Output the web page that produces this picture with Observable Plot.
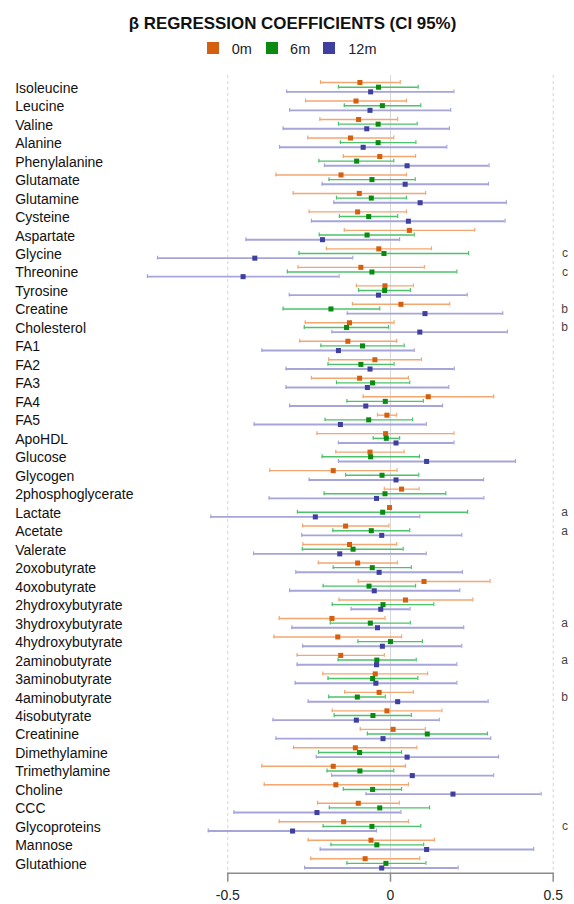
<!DOCTYPE html>
<html>
<head>
<meta charset="utf-8">
<script src="https://cdn.jsdelivr.net/npm/d3@7"></script>
<script src="https://cdn.jsdelivr.net/npm/@observablehq/plot@0.6"></script>
<style>
  html, body { margin: 0; padding: 0; background: #fff; }
  body { width: 574px; height: 904px; position: relative; overflow: hidden; font-family: "Liberation Sans", Arial, sans-serif; }
  #title { position: absolute; left: 0; top: 14px; width: 585px; text-align: center; font-weight: bold; font-size: 16.9px; line-height: 20px; color: #111; }
  .sw { position: absolute; top: 42px; width: 12px; height: 12px; }
  .lt { position: absolute; top: 40.5px; font-size: 14.5px; line-height: 17px; color: #222; }
  #chart { position: absolute; left: 0; top: 66px; }
</style>
</head>
<body>
<div id="title">β REGRESSION COEFFICIENTS (CI 95%)</div>
<div id="legend"></div>
<div id="chart"></div>
<script>
const names = ["Isoleucine","Leucine","Valine","Alanine","Phenylalanine","Glutamate","Glutamine","Cysteine","Aspartate","Glycine","Threonine","Tyrosine","Creatine","Cholesterol","FA1","FA2","FA3","FA4","FA5","ApoHDL","Glucose","Glycogen","2phosphoglycerate","Lactate","Acetate","Valerate","2oxobutyrate","4oxobutyrate","2hydroxybutyrate","3hydroxybutyrate","4hydroxybutyrate","2aminobutyrate","3aminobutyrate","4aminobutyrate","4isobutyrate","Creatinine","Dimethylamine","Trimethylamine","Choline","CCC","Glycoproteins","Mannose","Glutathione"];

const seriesNames = ["0m", "6m", "12m"];

// 0m
const est0 = [-0.094,-0.106,-0.098,-0.123,-0.033,-0.152,-0.096,-0.101,0.058,-0.036,-0.091,-0.017,0.032,-0.126,-0.131,-0.048,-0.095,0.116,-0.011,-0.015,-0.063,-0.176,0.034,-0.003,-0.138,-0.126,-0.101,0.103,0.046,-0.180,-0.162,-0.153,-0.047,-0.035,-0.011,0.008,-0.108,-0.176,-0.168,-0.099,-0.144,-0.060,-0.078];
const lo0 = [-0.215,-0.261,-0.217,-0.254,-0.145,-0.352,-0.299,-0.250,-0.142,-0.197,-0.284,-0.105,-0.117,-0.262,-0.279,-0.190,-0.243,-0.084,-0.040,-0.226,-0.168,-0.371,-0.019,-0.006,-0.270,-0.269,-0.222,-0.099,-0.158,-0.342,-0.358,-0.287,-0.208,-0.141,-0.179,-0.093,-0.298,-0.395,-0.388,-0.224,-0.342,-0.253,-0.245];
const hi0 = [0.030,0.049,0.022,0.010,0.077,0.049,0.108,0.049,0.259,0.126,0.104,0.070,0.182,0.011,0.019,0.095,0.055,0.317,0.019,0.195,0.042,0.020,0.088,0.000,-0.005,0.019,0.021,0.306,0.253,-0.017,0.034,-0.019,0.114,0.070,0.158,0.107,0.081,0.046,0.055,0.027,0.055,0.135,0.090];

// 6m
const est6 = [-0.037,-0.025,-0.038,-0.038,-0.104,-0.057,-0.059,-0.067,-0.072,-0.020,-0.057,-0.018,-0.183,-0.135,-0.086,-0.091,-0.055,-0.016,-0.067,-0.013,-0.061,-0.026,-0.017,-0.024,-0.059,-0.115,-0.056,-0.066,-0.023,-0.062,0.000,-0.042,-0.055,-0.102,-0.054,0.113,-0.095,-0.094,-0.055,-0.033,-0.057,-0.042,-0.014];
const lo6 = [-0.160,-0.142,-0.160,-0.154,-0.220,-0.189,-0.166,-0.157,-0.219,-0.281,-0.317,-0.098,-0.330,-0.265,-0.214,-0.192,-0.166,-0.134,-0.201,-0.053,-0.210,-0.138,-0.204,-0.286,-0.177,-0.271,-0.176,-0.207,-0.179,-0.185,-0.100,-0.161,-0.192,-0.190,-0.173,-0.071,-0.221,-0.195,-0.145,-0.188,-0.207,-0.183,-0.134];
const hi6 = [0.085,0.093,0.082,0.078,0.010,0.076,0.049,0.022,0.073,0.240,0.204,0.061,-0.033,-0.006,0.042,0.011,0.059,0.101,0.068,0.028,0.089,0.087,0.170,0.237,0.059,0.039,0.064,0.077,0.133,0.061,0.098,0.079,0.084,-0.016,0.064,0.298,0.034,0.010,0.034,0.120,0.093,0.102,0.109];

// 12m
const est12 = [-0.061,-0.063,-0.073,-0.084,0.051,0.045,0.091,0.055,-0.209,-0.417,-0.453,-0.037,0.106,0.090,-0.160,-0.063,-0.071,-0.076,-0.154,0.017,0.111,0.017,-0.043,-0.231,-0.027,-0.156,-0.035,-0.050,-0.030,-0.040,-0.025,-0.043,-0.045,0.022,-0.105,-0.023,0.051,0.067,0.192,-0.226,-0.301,0.111,-0.027];
const lo12 = [-0.319,-0.310,-0.330,-0.341,-0.203,-0.210,-0.174,-0.243,-0.444,-0.716,-0.747,-0.311,-0.133,-0.180,-0.395,-0.321,-0.321,-0.310,-0.419,-0.160,-0.160,-0.250,-0.373,-0.552,-0.273,-0.421,-0.291,-0.310,-0.121,-0.303,-0.270,-0.287,-0.293,-0.253,-0.361,-0.352,-0.228,-0.181,-0.075,-0.481,-0.560,-0.216,-0.264];
const hi12 = [0.195,0.185,0.181,0.173,0.303,0.301,0.356,0.352,0.028,-0.116,-0.158,0.236,0.345,0.359,0.073,0.196,0.179,0.160,0.110,0.195,0.384,0.286,0.287,0.090,0.219,0.110,0.221,0.213,0.060,0.225,0.219,0.204,0.204,0.300,0.150,0.308,0.332,0.317,0.463,0.032,-0.043,0.440,0.208];

const letterNames = ["Glycine","Threonine","Creatine","Cholesterol","Lactate","Acetate","3hydroxybutyrate","2aminobutyrate","4aminobutyrate","Glycoproteins"];
const letterMarks = ["c","c","b","b","a","a","a","a","b","c"];

const xTicks = [-0.5, 0, 0.5];

const pointColors = ["#d4600f", "#0b8a12", "#3f3f9f"];
const barColors = ["#f4a670", "#4cc26a", "#a5a5da"];
const barWidths = [1.4, 1.4, 1.9];
const offsets = [-4.65, 0, 4.65];

// legend
const legend = document.getElementById("legend");
const swLeft = [207.3, 265.7, 323.3];
const ltLeft = [231.7, 290.1, 348.3];
seriesNames.forEach((s, i) => {
  const sq = document.createElement("div");
  sq.className = "sw"; sq.style.left = swLeft[i] + "px"; sq.style.background = pointColors[i];
  legend.appendChild(sq);
  const t = document.createElement("div");
  t.className = "lt"; t.style.left = ltLeft[i] + "px"; t.textContent = s;
  legend.appendChild(t);
});

const seriesData = [[est0, lo0, hi0], [est6, lo6, hi6], [est12, lo12, hi12]];

const marks = [
  Plot.ruleX([-0.5, 0.5], {stroke: "#d4d4d4", strokeDasharray: "3,3", strokeWidth: 1}),
  Plot.ruleX([0], {stroke: "#d8d8d8", strokeWidth: 1}),
  Plot.frame({anchor: "bottom", stroke: "#8c8c8c", strokeWidth: 1.5}),
  Plot.axisX({ticks: xTicks, tickSize: 9, tickPadding: 8, tickFormat: d => String(d), fontSize: 14, stroke: "#8c8c8c", strokeWidth: 1.5, fill: "#222", label: null})
];

seriesData.forEach(([est, lo, hi], s) => {
  const rows = names.map((n, i) => ({name: n, est: est[i], lo: lo[i], hi: hi[i]}));
  marks.push(Plot.ruleY(rows, {y: "name", x1: "lo", x2: "hi", dy: offsets[s], stroke: barColors[s], strokeWidth: barWidths[s]}));
  marks.push(Plot.tickX(rows, {x: "lo", y: "name", dy: offsets[s], stroke: barColors[s], strokeWidth: 1.2, insetTop: 7.3, insetBottom: 7.3}));
  marks.push(Plot.tickX(rows, {x: "hi", y: "name", dy: offsets[s], stroke: barColors[s], strokeWidth: 1.2, insetTop: 7.3, insetBottom: 7.3}));
  marks.push(Plot.dot(rows, {x: "est", y: "name", dy: offsets[s], symbol: "square", r: 2.85, fill: pointColors[s], stroke: "none"}));
});

marks.push(Plot.text(names, {y: d => d, text: d => d, frameAnchor: "left", dx: -212.6, dy: 1, textAnchor: "start", fontSize: 14, fill: "#111"}));

const letterRows = letterNames.map((n, i) => ({name: n, letter: letterMarks[i]}));
marks.push(Plot.text(letterRows, {y: "name", text: "letter", frameAnchor: "right", dx: 14.8, fontSize: 12, fill: "#444"}));

const plot = Plot.plot({
  width: 574,
  height: 838,
  marginLeft: 227.3,
  marginRight: 21.3,
  marginTop: 9,
  marginBottom: 31.3,
  style: {fontFamily: "'Liberation Sans', Arial, sans-serif", background: "#fff", overflow: "visible"},
  x: {domain: [-0.5, 0.5], range: [227.3, 552.7]},
  y: {type: "band", domain: names, range: [11.46, 806.09], padding: 0, round: false, axis: null},
  marks
});
document.getElementById("chart").appendChild(plot);
</script>
</body>
</html>
